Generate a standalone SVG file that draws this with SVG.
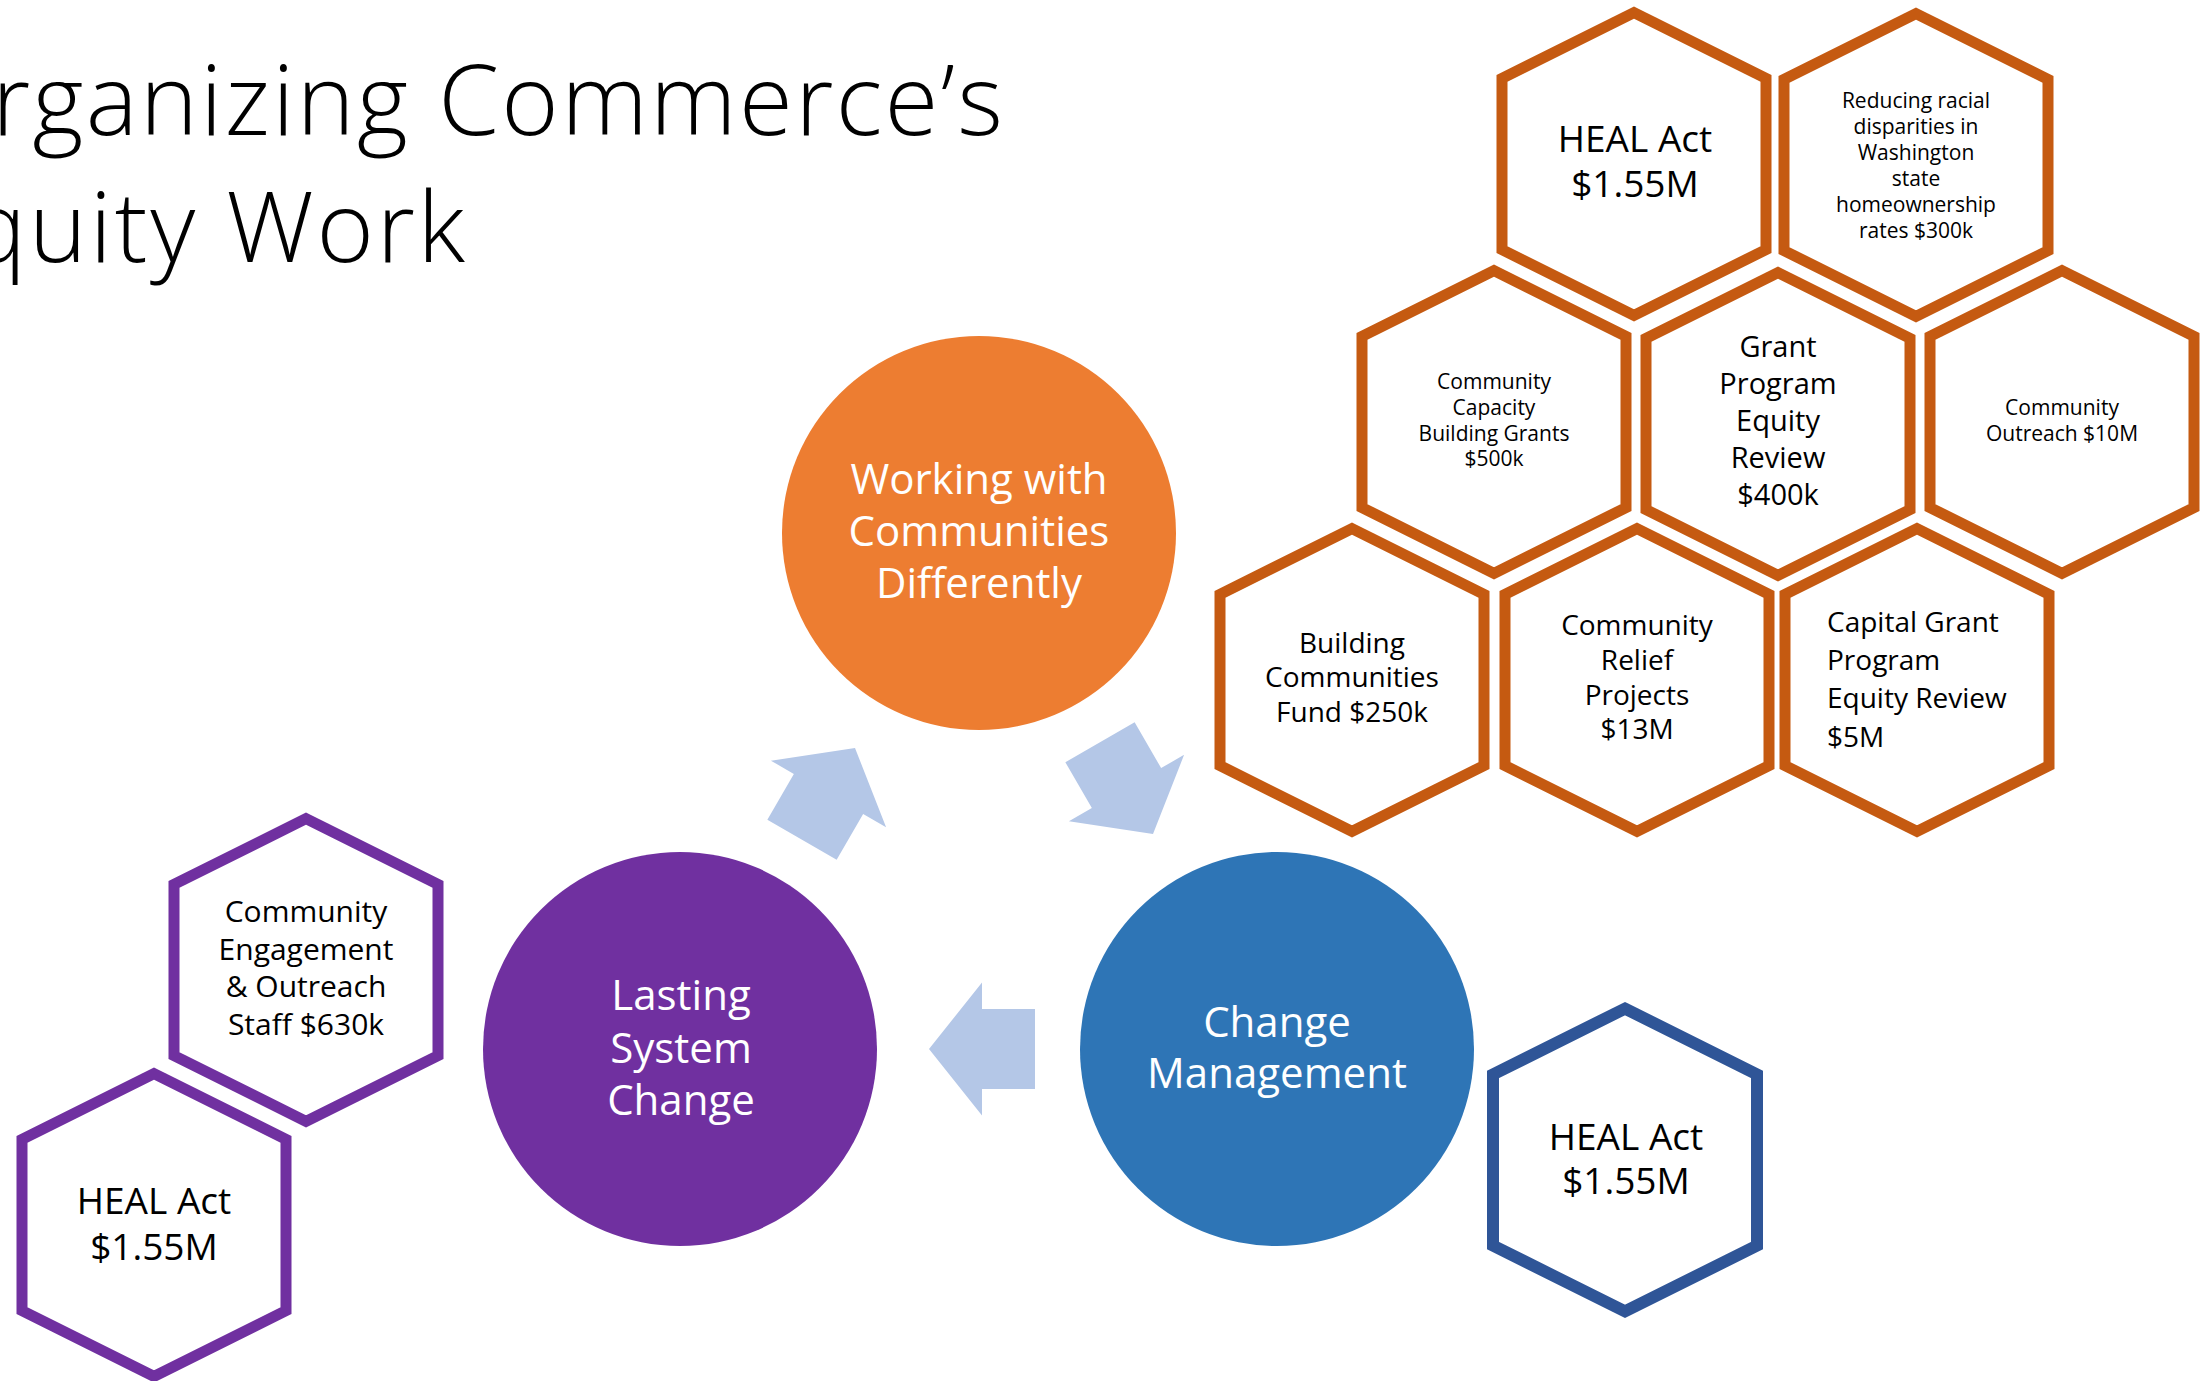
<svg xmlns="http://www.w3.org/2000/svg" xmlns:xlink="http://www.w3.org/1999/xlink" width="2205" height="1381" viewBox="0 0 2205 1381">
<style>
text{font-family:"Open Sans","Noto Sans","DejaVu Sans",sans-serif;fill:#000}
.c{text-anchor:middle}
.t{font-size:98px;font-weight:300}
.w{fill:#fff;font-size:42px;text-anchor:middle}
.ho{fill:#fff;stroke:#C55A11;stroke-width:11;stroke-linejoin:miter}
.hp{fill:#fff;stroke:#7030A0;stroke-width:11;stroke-linejoin:miter}
.hb{fill:#fff;stroke:#2F5597;stroke-width:12;stroke-linejoin:miter}
.arr{fill:#B4C7E7}
</style>
<defs>
<path id="hex" d="M0,-151.4 L132,-85.6 L132,85.6 L0,151.4 L-132,85.6 L-132,-85.6 Z"/>
<path id="arrow" d="M0,0 L-53,-66.5 L-53,-40 L-106,-40 L-106,40 L-53,40 L-53,66.5 Z"/>
</defs>
<rect width="2205" height="1381" fill="#fff"/>
<g id="title">
<text class="t" x="-8" y="135" textLength="1011" lengthAdjust="spacing">rganizing Commerce’s</text>
<text class="t" x="-32" y="262" textLength="497" lengthAdjust="spacing">quity Work</text>
</g>
<g id="connectors">
<use xlink:href="#arrow" class="arr" transform="translate(855,748) rotate(-60)"/>
<use xlink:href="#arrow" class="arr" transform="translate(1153,834) rotate(60)"/>
<use xlink:href="#arrow" class="arr" transform="translate(929,1049) rotate(180)"/>
</g>
<g id="working-with-communities">
<circle cx="979" cy="533" r="197" fill="#ED7D31"/>
<text class="w" x="979" y="494">Working with</text>
<text class="w" x="979" y="546">Communities</text>
<text class="w" x="979" y="598">Differently</text>
</g>
<g id="lasting-system-change">
<circle cx="680" cy="1049" r="197" fill="#7030A0"/>
<text class="w" x="681" y="1010">Lasting</text>
<text class="w" x="681" y="1063">System</text>
<text class="w" x="681" y="1115">Change</text>
</g>
<g id="change-management">
<circle cx="1277" cy="1049" r="197" fill="#2E75B6"/>
<text class="w" x="1277" y="1037">Change</text>
<text class="w" x="1277" y="1088">Management</text>
</g>
<g id="hex-heal-orange">
<use xlink:href="#hex" class="ho" x="1634" y="164"/>
<text class="c" x="1635" y="152" font-size="37">HEAL Act</text>
<text class="c" x="1635" y="197" font-size="37">$1.55M</text>
</g>
<g id="hex-reducing-disparities">
<use xlink:href="#hex" class="ho" x="1916" y="165"/>
<text class="c" x="1916" y="108" font-size="21">Reducing racial</text>
<text class="c" x="1916" y="134" font-size="21">disparities in</text>
<text class="c" x="1916" y="160" font-size="21">Washington</text>
<text class="c" x="1916" y="186" font-size="21">state</text>
<text class="c" x="1916" y="212" font-size="21">homeownership</text>
<text class="c" x="1916" y="238" font-size="21">rates $300k</text>
</g>
<g id="hex-capacity-building">
<use xlink:href="#hex" class="ho" x="1494" y="422"/>
<text class="c" x="1494" y="389" font-size="21">Community</text>
<text class="c" x="1494" y="415" font-size="21">Capacity</text>
<text class="c" x="1494" y="441" font-size="21">Building Grants</text>
<text class="c" x="1494" y="466" font-size="21">$500k</text>
</g>
<g id="hex-grant-program-review">
<use xlink:href="#hex" class="ho" x="1778" y="424"/>
<text class="c" x="1778" y="357" font-size="29">Grant</text>
<text class="c" x="1778" y="394" font-size="29">Program</text>
<text class="c" x="1778" y="431" font-size="29">Equity</text>
<text class="c" x="1778" y="468" font-size="29">Review</text>
<text class="c" x="1778" y="505" font-size="29">$400k</text>
</g>
<g id="hex-community-outreach">
<use xlink:href="#hex" class="ho" x="2062" y="422"/>
<text class="c" x="2062" y="415" font-size="21">Community</text>
<text class="c" x="2062" y="441" font-size="21">Outreach $10M</text>
</g>
<g id="hex-building-communities">
<use xlink:href="#hex" class="ho" x="1352" y="680"/>
<text class="c" x="1352" y="653" font-size="28">Building</text>
<text class="c" x="1352" y="687" font-size="28">Communities</text>
<text class="c" x="1352" y="722" font-size="28">Fund $250k</text>
</g>
<g id="hex-community-relief">
<use xlink:href="#hex" class="ho" x="1637" y="680"/>
<text class="c" x="1637" y="635" font-size="28">Community</text>
<text class="c" x="1637" y="670" font-size="28">Relief</text>
<text class="c" x="1637" y="705" font-size="28">Projects</text>
<text class="c" x="1637" y="739" font-size="28">$13M</text>
</g>
<g id="hex-capital-grant">
<use xlink:href="#hex" class="ho" x="1917" y="680"/>
<text x="1827" y="632" font-size="28">Capital Grant</text>
<text x="1827" y="670" font-size="28">Program</text>
<text x="1827" y="708" font-size="28">Equity Review</text>
<text x="1827" y="747" font-size="28">$5M</text>
</g>
<g id="hex-engagement-staff">
<use xlink:href="#hex" class="hp" x="306" y="970"/>
<text class="c" x="306" y="922" font-size="30">Community</text>
<text class="c" x="306" y="960" font-size="30">Engagement</text>
<text class="c" x="306" y="997" font-size="30">&amp; Outreach</text>
<text class="c" x="306" y="1035" font-size="30">Staff $630k</text>
</g>
<g id="hex-heal-purple">
<use xlink:href="#hex" class="hp" x="154" y="1225"/>
<text class="c" x="154" y="1214" font-size="37">HEAL Act</text>
<text class="c" x="154" y="1260" font-size="37">$1.55M</text>
</g>
<g id="hex-heal-blue">
<use xlink:href="#hex" class="hb" x="1625" y="1160"/>
<text class="c" x="1626" y="1150" font-size="37">HEAL Act</text>
<text class="c" x="1626" y="1194" font-size="37">$1.55M</text>
</g>
</svg>
